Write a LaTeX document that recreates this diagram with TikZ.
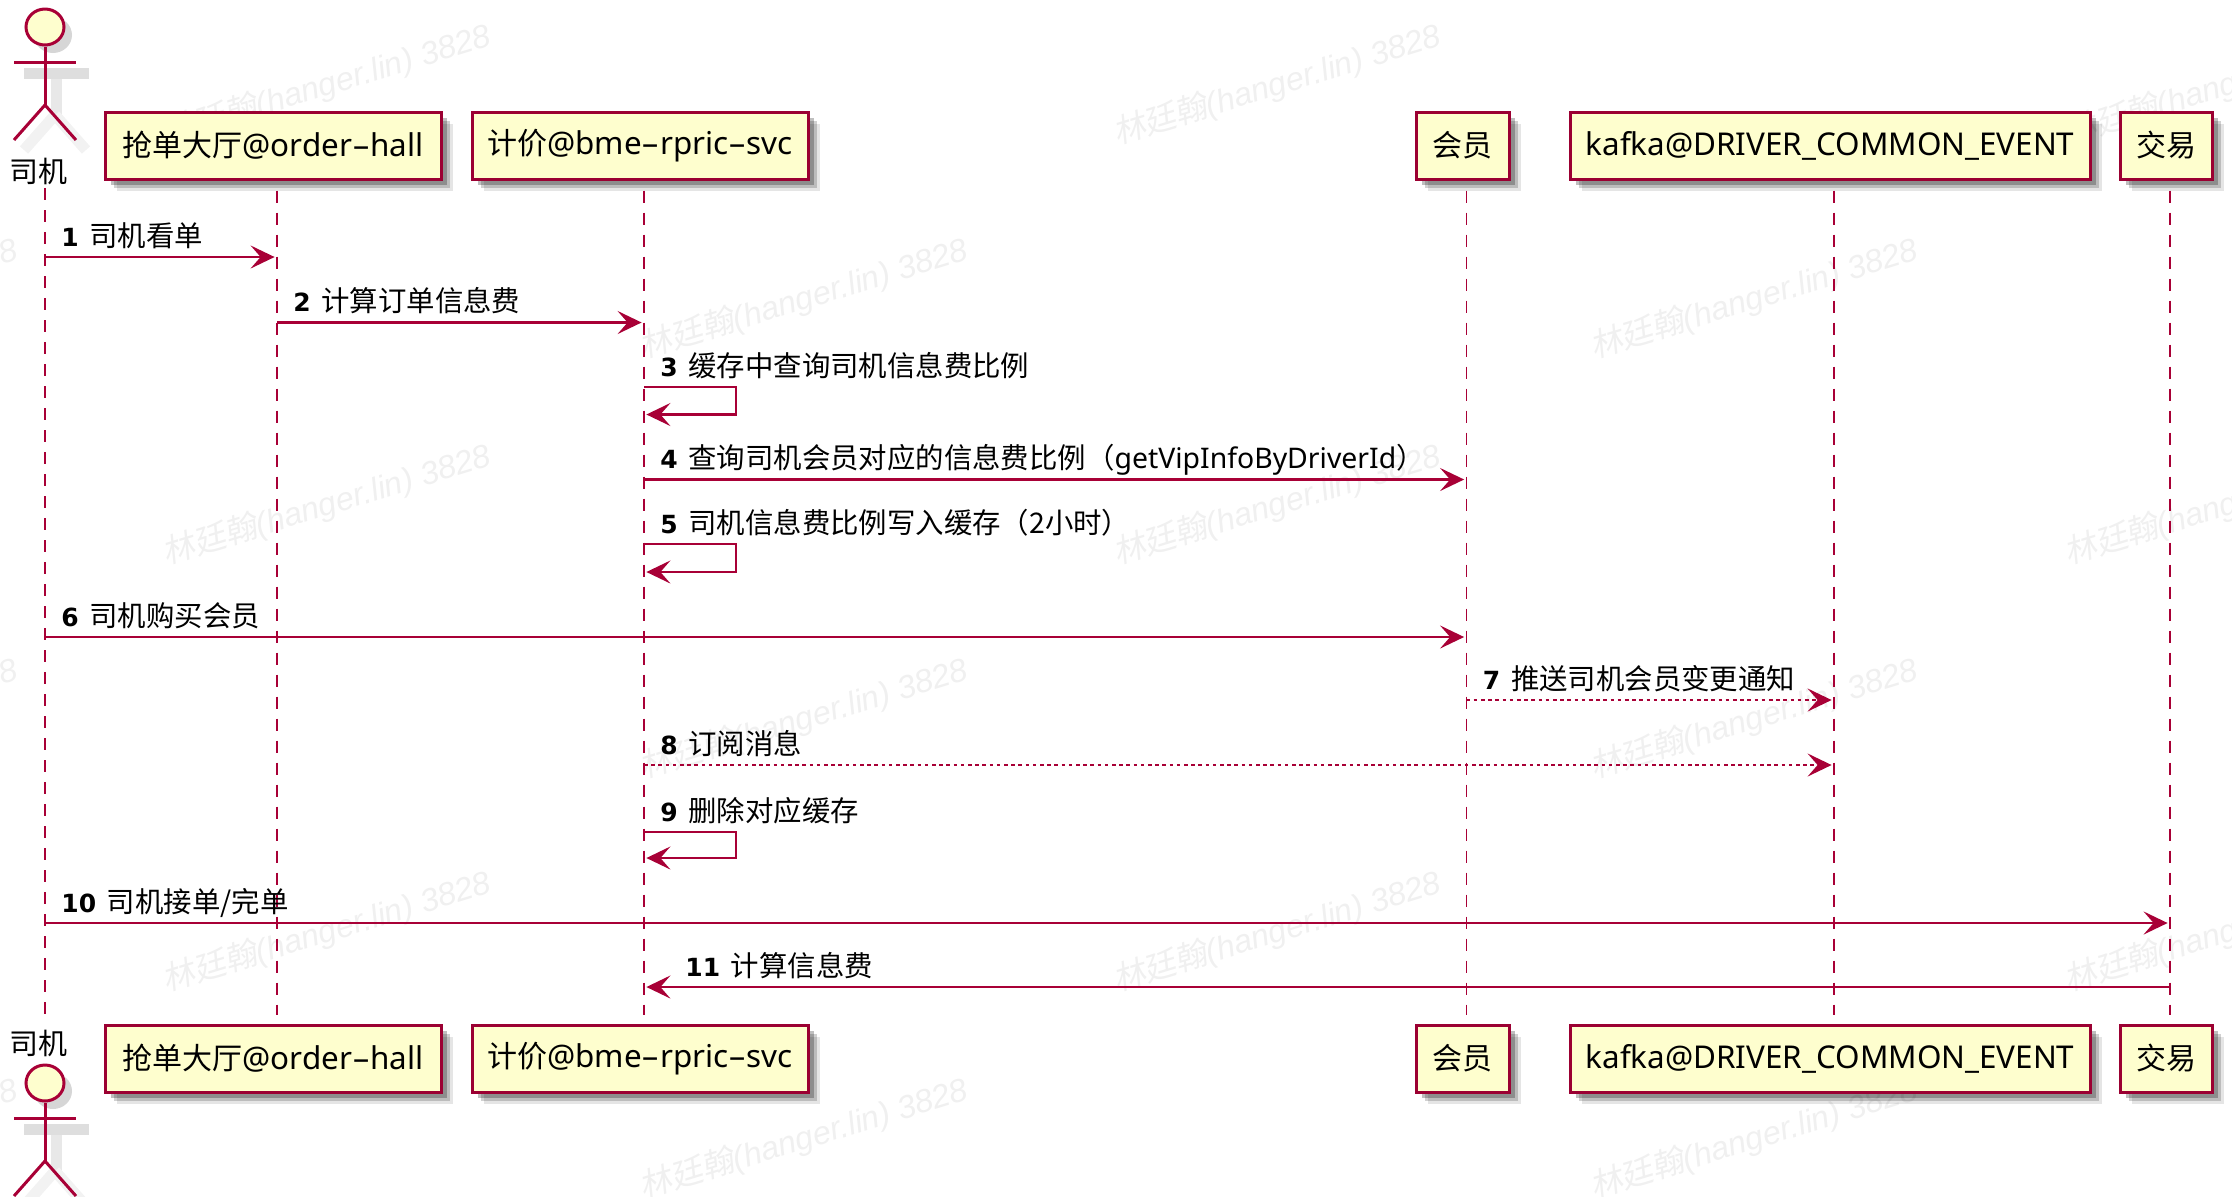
\documentclass[tikz,border=0pt]{standalone}
\usepackage{fontspec}
\setmainfont{Noto Sans CJK SC}
\newfontfamily\numfont{DejaVu Sans}
\newfontfamily\boxlat{Noto Sans}
\newfontfamily\markfont{Liberation Sans}
\newfontfamily\markcjk[FakeSlant=0.2]{Noto Sans CJK SC}
\usetikzlibrary{arrows.meta,shadows,shapes.geometric}
\definecolor{seqred}{HTML}{A80036}
\definecolor{seqfill}{HTML}{FEFECE}
\newcommand{\seqno}[1]{{\numfont\bfseries\fontsize{12.5pt}{14pt}\selectfont #1}\hspace{0.38em}}
\newcommand{\marktext}{{\markcjk 林廷翰}(hanger.lin) 3828}
\newcommand{\latname}{\boxlat\fontsize{15.7pt}{18pt}\selectfont}
\newcommand{\widehy}{\scalebox{1.8}[1]{-}}
\tikzset{
	partbox/.style={draw=seqred!92!black, fill=seqfill, line width=1.5pt, minimum height=33.5pt, inner sep=0pt,
		font=\fontsize{15pt}{18pt}\selectfont,
		drop shadow={shadow xshift=6pt, shadow yshift=-6pt, fill=black, opacity=.10},
		drop shadow={shadow xshift=4.5pt, shadow yshift=-4.5pt, fill=black, opacity=.18},
		drop shadow={shadow xshift=3pt, shadow yshift=-3pt, fill=black, opacity=.25}},
	lifeline/.style={seqred, line width=.9pt, dash pattern=on 6pt off 5pt},
	msg/.style={seqred, line width=1.2pt, shorten >=1.2pt, -{Stealth[length=12pt, width=11.5pt, inset=5pt]}},
	msgdash/.style={msg, line width=1.1pt, dash pattern=on 1.8pt off 1.8pt},
	msglabel/.style={anchor=base west, inner sep=0pt, font=\fontsize{14.2pt}{16pt}\selectfont},
	actorline/.style={seqred, line width=1.5pt},
	actorshade/.style={black!13, line width=5.5pt},
	watermark/.style={black!6, rotate=17, inner sep=0pt, font=\markfont\itshape\fontsize{16.2pt}{18pt}\selectfont}
}
\begin{document}
\begin{tikzpicture}[x=0.5pt, y=-0.5pt]
	\useasboundingbox (0,0) rectangle (2232,1196);
	% watermark rows
	\foreach \y [count=\r] in {85,505,932}
		\foreach \x [count=\c] in {327,1277,2228}
			\node[watermark] (markA\r\c) at (\x,\y) {\marktext};
	\foreach \y [count=\r] in {299,719,1139}
		\foreach \x [count=\c] in {-146,804,1754}
			\node[watermark] (markB\r\c) at (\x,\y) {\marktext};
	
	% participants
	\foreach \name/\x/\w/\txt in {hall/273/168/抢单大厅{\latname @order\widehy hall}, bme/640/168/计价{\latname @bme\widehy rpric\widehy svc}, member/1462.5/46.5/会员, kafka/1830/260/{\latname kafka@DRIVER\_COMMON\_EVENT}, trade/2166/46/交易}{
		\node[partbox, minimum width=\w pt] (\name Top) at (\x,145.5) {\txt};
		\node[partbox, minimum width=\w pt] (\name Bot) at (\x,1058.5) {\txt};
		\coordinate (\name L) at ([xshift=2pt]\name Top.south);
		\coordinate (\name E) at ([xshift=2pt]\name Bot.north);
		\draw[lifeline] ([yshift=-5pt]\name L) -- ([yshift=4.5pt]\name E);
	}
	
	% actor at top and bottom
	\foreach \head/\y in {driverHead/27,driverFoot/1083}{
		\draw[actorshade, black!9] (45+11,\y+36+10) -- (45+11,\y+78+10);
		\draw[actorshade] (14+10,\y+35+11) -- (76+13,\y+35+11);
		\draw[actorshade, black!5] (45+10,\y+78+10) -- (14+10,\y+113+10) (45+10,\y+78+10) -- (76+10,\y+113+10);
		\node[ellipse, fill=black!16, minimum width=19pt, minimum height=18pt, inner sep=0pt] (\head S) at (45+8,\y+8) {};
		\node[ellipse, draw=seqred, fill=seqfill, line width=1.5pt, minimum width=19pt, minimum height=18pt, inner sep=0pt] (\head) at (45,\y) {};
		\draw[actorline] (\head.south) -- (45,\y+78);
		\draw[actorline] (14,\y+35) -- (76,\y+35);
		\draw[actorline] (14,\y+113) -- (45,\y+78) -- (76,\y+113);
	}
	\node[anchor=center, inner sep=0pt, font=\fontsize{14.5pt}{17pt}\selectfont] (driverTop) at (38.5,171) {司机};
	\node[anchor=center, inner sep=0pt, font=\fontsize{14.5pt}{17pt}\selectfont] (driverBot) at (38.5,1043) {司机};
	\coordinate (driverL) at (45,188);
	\coordinate (driverE) at (45,1016);
	\draw[lifeline] (driverL) -- (driverE);
	
	% messages
	\foreach \id/\a/\b/\y/\txt in {1/driverL/hallL/257/司机看单, 2/hallL/bmeL/322.5/计算订单信息费, 4/bmeL/memberL/479.5/查询司机会员对应的信息费比例（{\boxlat getVipInfoByDriverId}）, 6/driverL/memberL/637/司机购买会员, 10/driverL/tradeL/923/{司机接单/完单}}{
		\coordinate (m\id) at (0,\y);
		\draw[msg] (\a |- m\id) -- (\b |- m\id);
		\node[msglabel] (t\id) at ([xshift=8pt, yshift=5.3pt]\a |- m\id) {\seqno{\id}\txt};
	}
	\foreach \id/\a/\b/\y/\txt in {7/memberL/kafkaL/700/推送司机会员变更通知, 8/bmeL/kafkaL/765/订阅消息}{
		\coordinate (m\id) at (0,\y);
		\draw[msgdash] (\a |- m\id) -- (\b |- m\id);
		\node[msglabel] (t\id) at ([xshift=8pt, yshift=5.3pt]\a |- m\id) {\seqno{\id}\txt};
	}
	% messages to itself
	\foreach \id/\y/\yy/\txt in {3/387/414.5/缓存中查询司机信息费比例, 5/544/572/司机信息费比例写入缓存（2小时）, 9/832/858/删除对应缓存}{
		\coordinate (m\id) at (0,\y);
		\coordinate (n\id) at (0,\yy);
		\coordinate (r\id) at (736,\y);
		\draw[msg] (bmeL |- m\id) -- (r\id) -- (r\id |- n\id) -- (bmeL |- n\id);
		\node[msglabel] (t\id) at ([xshift=8pt, yshift=5.3pt]bmeL |- m\id) {\seqno{\id}\txt};
	}
	\coordinate (m11) at (0,987);
	\draw[msg] (tradeL |- m11) -- (bmeL |- m11);
	\node[msglabel] (t11) at ([xshift=20.5pt, yshift=5.3pt]bmeL |- m11) {\seqno{11}计算信息费};
\end{tikzpicture}
\end{document}
